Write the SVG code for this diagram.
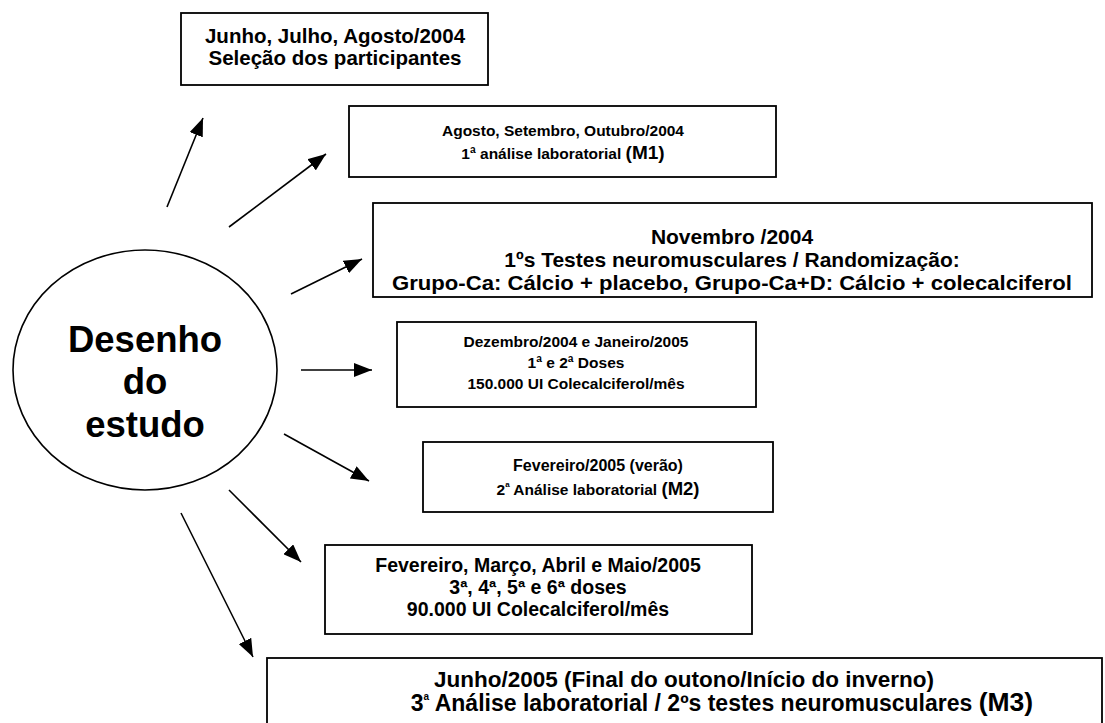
<svg xmlns="http://www.w3.org/2000/svg" width="1105" height="723" viewBox="0 0 1105 723">
<defs>
<marker id="ah" viewBox="0 0 18 14" refX="18" refY="7" markerWidth="18" markerHeight="14" markerUnits="userSpaceOnUse" orient="auto">
<path d="M0,0 L18,7 L0,14 z" fill="#000"/>
</marker>
<style>
.box{fill:#fff;stroke:#000;stroke-width:1.8}
.t{font-family:"Liberation Sans",Arial,sans-serif;font-weight:bold;fill:#000;text-anchor:middle}
.c{stroke:#000;stroke-width:1.6;fill:none;marker-end:url(#ah)}
</style>
</defs>
<rect width="1105" height="723" fill="#fff"/>
<g id="center">
<ellipse cx="145" cy="370" rx="132" ry="120" fill="#fff" stroke="#000" stroke-width="1.6"/>
<text class="t" x="145" y="352" font-size="36.5">Desenho</text>
<text class="t" x="145" y="394" font-size="36.5">do</text>
<text class="t" x="145" y="437" font-size="36.5">estudo</text>
</g>
<g id="connectors">
<line class="c" x1="167" y1="207" x2="203" y2="118"/>
<line class="c" x1="229" y1="227" x2="326" y2="154"/>
<line class="c" x1="291" y1="294" x2="362" y2="259"/>
<line class="c" x1="301" y1="370" x2="372" y2="370"/>
<line class="c" x1="284" y1="434" x2="369" y2="481"/>
<line class="c" x1="229" y1="490" x2="301" y2="562"/>
<line class="c" x1="181" y1="513" x2="253" y2="657"/>
</g>
<g id="n1">
<rect class="box" x="181" y="13" width="307" height="72"/>
<text class="t" x="335" y="43" font-size="20.5">Junho, Julho, Agosto/2004</text>
<text class="t" x="335" y="65" font-size="20.5">Seleção dos participantes</text>
</g>
<g id="n2">
<rect class="box" x="349" y="106" width="427" height="71"/>
<text class="t" x="563" y="136" font-size="15.5">Agosto, Setembro, Outubro/2004</text>
<text class="t" x="563" y="159" font-size="15.5">1ª análise laboratorial <tspan font-size="19">(M1)</tspan></text>
</g>
<g id="n3">
<rect class="box" x="373" y="203" width="719" height="94"/>
<text class="t" x="732" y="244" font-size="21">Novembro /2004</text>
<text class="t" x="732" y="267" font-size="21">1ºs Testes neuromusculares / Randomização:</text>
<text class="t" x="732" y="290" font-size="21" textLength="680" lengthAdjust="spacingAndGlyphs">Grupo-Ca: Cálcio + placebo, Grupo-Ca+D: Cálcio + colecalciferol</text>
</g>
<g id="n4">
<rect class="box" x="397" y="322" width="359" height="85"/>
<text class="t" x="576" y="347" font-size="15.5">Dezembro/2004 e Janeiro/2005</text>
<text class="t" x="576" y="368" font-size="15.5">1ª e 2ª Doses</text>
<text class="t" x="576" y="389" font-size="15.5">150.000 UI Colecalciferol/mês</text>
</g>
<g id="n5">
<rect class="box" x="423" y="442" width="350" height="70"/>
<text class="t" x="598" y="471" font-size="16">Fevereiro/2005 (verão)</text>
<text class="t" x="598" y="495" font-size="15.5">2<tspan font-size="8" dy="-8">a</tspan><tspan dy="8"> Análise laboratorial </tspan><tspan font-size="18.5">(M2)</tspan></text>
</g>
<g id="n6">
<rect class="box" x="325" y="545" width="427" height="89"/>
<text class="t" x="538" y="572" font-size="19.5">Fevereiro, Março, Abril e Maio/2005</text>
<text class="t" x="538" y="594" font-size="19.5">3ª, 4ª, 5ª e 6ª doses</text>
<text class="t" x="538" y="616" font-size="19.5">90.000 UI Colecalciferol/mês</text>
</g>
<g id="n7">
<rect class="box" x="267" y="658" width="835" height="80"/>
<text class="t" x="684" y="687" font-size="22.5">Junho/2005 (Final do outono/Início do inverno)</text>
<text class="t" x="722" y="711" font-size="23">3<tspan font-size="10" dy="-11">a</tspan><tspan dy="11"> Análise laboratorial / 2ºs testes neuromusculares </tspan><tspan font-size="26.5">(M3)</tspan></text>
</g>
</svg>
